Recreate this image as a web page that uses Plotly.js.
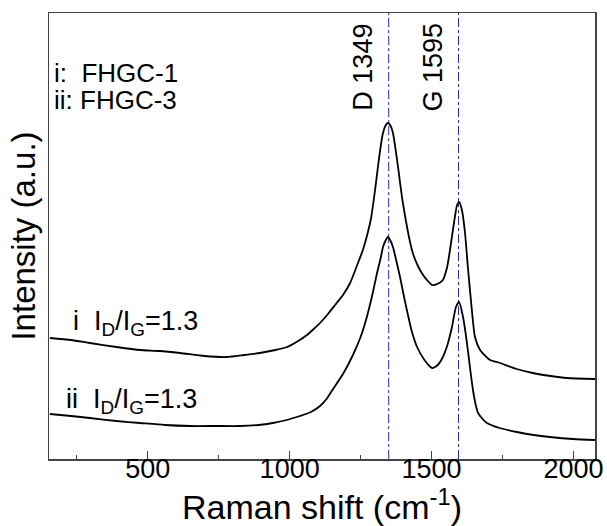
<!DOCTYPE html>
<html>
<head>
<meta charset="utf-8">
<script src="https://cdn.plot.ly/plotly-3.0.1.min.js"></script>
<style>html,body{margin:0;padding:0;background:#fff;}#chart{width:607px;height:526px;}</style>
</head>
<body>
<div id="chart"></div>
<script>
// Raman shift (cm-1)
const shiftI = [155, 230, 296, 390, 473, 540, 614, 700, 779, 840, 895, 950, 991, 1030, 1061, 1085, 1107, 1135, 1160, 1188, 1213, 1238, 1258, 1275, 1287, 1301, 1311, 1322, 1329, 1339, 1346, 1354, 1364, 1373, 1382, 1391, 1399, 1413, 1425, 1435, 1452, 1470, 1487, 1502, 1520, 1540, 1555, 1565, 1579, 1590, 1597, 1607, 1618, 1628, 1642, 1653, 1671, 1690, 1706, 1741, 1800, 1857, 1920, 1977, 2076];
const intensityI = [121, 119, 116, 112, 109, 108, 106, 103, 102, 104, 106, 109, 112, 118, 124, 130, 136, 145, 154, 164, 176, 194, 209, 226, 241, 269, 292, 315, 326, 334, 336, 334, 326, 310, 292, 272, 256, 233, 216, 205, 193, 184, 178, 174, 175, 179, 192, 209, 236, 254, 257, 249, 226, 192, 149, 122, 109, 103, 99, 96, 90, 86, 83, 81, 80];

const shiftII = [155, 230, 296, 390, 473, 560, 649, 740, 825, 890, 941, 990, 1036, 1075, 1107, 1130, 1153, 1190, 1223, 1250, 1272, 1292, 1308, 1320, 1329, 1339, 1346, 1354, 1364, 1376, 1389, 1401, 1413, 1430, 1449, 1475, 1502, 1522, 1540, 1557, 1572, 1586, 1597, 1611, 1620, 1628, 1637, 1646, 1655, 1664, 1680, 1695, 1740, 1801, 1860, 1917, 2000, 2076];
const intensityII = [45, 43, 41, 38, 36, 34, 33, 33, 33, 34, 36, 39, 43, 47, 53, 60, 70, 86, 104, 122, 142, 165, 186, 200, 212, 219, 222, 219, 212, 198, 182, 165, 149, 128, 112, 99, 91, 94, 102, 115, 132, 152, 157, 142, 126, 109, 88, 69, 55, 46, 40, 36, 31, 27, 24, 22, 20, 19];

const peakPositions = [1349, 1595];
const peakLabels = ['D 1349', 'G 1595'];
const sampleLabels = ['i:\u00a0\u00a0FHGC-1', 'ii: FHGC-3'];
const ratioLabels = ['i\u00a0\u00a0I<sub>D</sub>/I<sub>G</sub>=1.3', 'ii\u00a0\u00a0I<sub>D</sub>/I<sub>G</sub>=1.3'];
const xTicks = [500, 1000, 1500, 2000];

const FONT = 'Arial, "Liberation Sans", sans-serif';

const lineStyle = {color: '#000', width: 1.8, shape: 'spline', smoothing: 0.6};
const traces = [
  {x: shiftI, y: intensityI, mode: 'lines', line: lineStyle, name: 'FHGC-1', showlegend: false},
  {x: shiftII, y: intensityII, mode: 'lines', line: lineStyle, name: 'FHGC-3', showlegend: false}
];

const shapes = peakPositions.map(p => ({
  type: 'line', xref: 'x', yref: 'paper', x0: p, x1: p, y0: 0, y1: 1,
  line: {color: '#2a2aa8', width: 1, dash: 'dashdot'}, layer: 'below'
}));

const annotations = [];
peakPositions.forEach((p, i) => {
  annotations.push({x: p, xref: 'x', xshift: -26, y: 0.879, yref: 'paper', yanchor: 'middle', xanchor: 'center',
    text: peakLabels[i], textangle: -90, showarrow: false, font: {family: FONT, size: 27, color: '#000'}});
});
annotations.push({x: 0.006, xref: 'paper', y: 0.865, yref: 'paper', xanchor: 'left', yanchor: 'middle',
  text: sampleLabels[0], showarrow: false, font: {family: FONT, size: 26, color: '#000'}});
annotations.push({x: 0.006, xref: 'paper', y: 0.805, yref: 'paper', xanchor: 'left', yanchor: 'middle',
  text: sampleLabels[1], showarrow: false, font: {family: FONT, size: 26, color: '#000'}});
annotations.push({x: 0.04, xref: 'paper', y: 0.305, yref: 'paper', xanchor: 'left', yanchor: 'middle',
  text: ratioLabels[0], showarrow: false, font: {family: FONT, size: 27, color: '#000'}});
annotations.push({x: 0.027, xref: 'paper', y: 0.13, yref: 'paper', xanchor: 'left', yanchor: 'middle',
  text: ratioLabels[1], showarrow: false, font: {family: FONT, size: 27, color: '#000'}});

const layout = {
  width: 607, height: 526,
  margin: {l: 49, r: 12, t: 13, b: 67},
  paper_bgcolor: '#fff', plot_bgcolor: '#fff',
  font: {family: FONT, color: '#000'},
  showlegend: false,
  xaxis: {
    range: [152, 2076], tickvals: xTicks, ticks: 'inside', ticklen: 8, tickwidth: 1.3, tickcolor: '#444',
    minor: {dtick: 250, tick0: 0, ticks: 'inside', ticklen: 4, tickwidth: 1.3, tickcolor: '#444'},
    showline: true, linecolor: '#444', linewidth: 1.5, mirror: true,
    showgrid: false, zeroline: false, ticklabelstandoff: -15,
    tickfont: {family: FONT, size: 27, color: '#000'},
    title: {text: 'Raman shift (cm<sup>-1</sup>)', font: {family: FONT, size: 34, color: '#000'}, standoff: 3}
  },
  yaxis: {
    range: [0, 446], showticklabels: false, ticks: '',
    showline: true, linecolor: '#444', linewidth: 1.5, mirror: true,
    showgrid: false, zeroline: false,
    title: {text: 'Intensity (a.u.)', font: {family: FONT, size: 33, color: '#000'}, standoff: 2}
  },
  shapes: shapes,
  annotations: annotations
};

Plotly.newPlot('chart', traces, layout, {displayModeBar: false, staticPlot: true});
</script>
</body>
</html>
